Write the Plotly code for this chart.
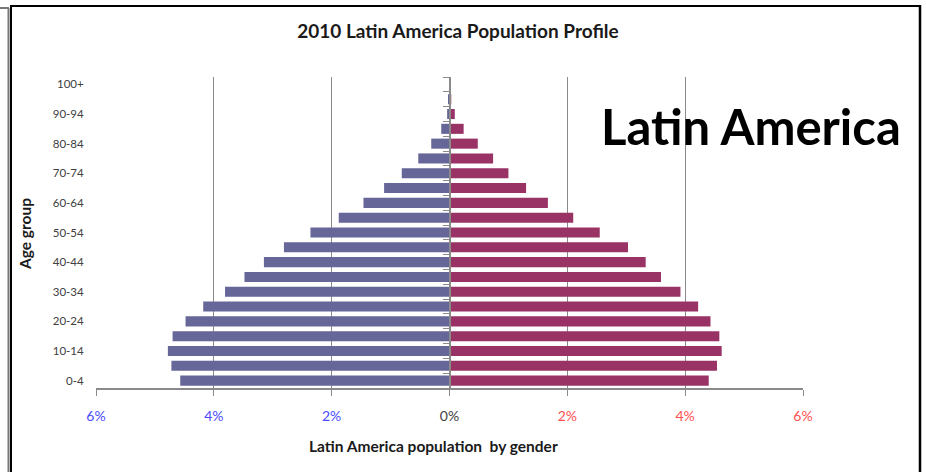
import plotly.graph_objects as go

# Age groups, youngest first (bottom of the pyramid)
age_groups = ["0-4", "5-9", "10-14", "15-19", "20-24", "25-29", "30-34", "35-39",
              "40-44", "45-49", "50-54", "55-59", "60-64", "65-69", "70-74",
              "75-79", "80-84", "85-89", "90-94", "95-99", "100+"]

# Share of total population (%) by gender
male_pct = [4.57, 4.72, 4.78, 4.70, 4.48, 4.18, 3.81, 3.48, 3.15, 2.81, 2.36,
            1.88, 1.46, 1.11, 0.81, 0.53, 0.31, 0.14, 0.04, 0.01, 0.00]
female_pct = [4.40, 4.54, 4.62, 4.58, 4.43, 4.22, 3.92, 3.59, 3.33, 3.03, 2.55,
              2.10, 1.67, 1.30, 1.00, 0.74, 0.48, 0.24, 0.09, 0.03, 0.01]

# Every other age group is labelled
age_labels = age_groups[::2]

# Horizontal axis ticks (%), males drawn to the left of zero
x_ticks = [-6, -4, -2, 0, 2, 4, 6]
x_tick_text = ["6%", "4%", "2%", "0%", "2%", "4%", "6%"]

MALE_COLOR = "#666699"
FEMALE_COLOR = "#993366"
GRID = "#8a8a8a"
FONT = "Lato"

W, H = 926, 472
M_L, M_R, M_T, M_B = 96, 123, 77, 84
PW, PH = W - M_L - M_R, H - M_T - M_B


def px_x(px):
    return (px - M_L) / PW


def px_y(py):
    return (H - M_B - py) / PH


def tick_color(v):
    if v < 0:
        return "#4a4aff"
    if v > 0:
        return "#ff4f4f"
    return "#404040"


tick_text_colored = [f"<span style='color:{tick_color(v)}'>{t}</span>"
                     for v, t in zip(x_ticks, x_tick_text)]

fig = go.Figure()
fig.add_trace(go.Bar(
    y=age_groups, x=[-v for v in male_pct], orientation="h",
    marker=dict(color=MALE_COLOR, line=dict(width=0)), name="Male",
))
fig.add_trace(go.Bar(
    y=age_groups, x=female_pct, orientation="h",
    marker=dict(color=FEMALE_COLOR, line=dict(width=0)), name="Female",
))

# Invisible trace that carries the centre (zero) axis with boundary ticks
n = len(age_groups)
boundaries = [i - 0.5 for i in range(n + 1)]
fig.add_trace(go.Scatter(x=[0], y=[0], yaxis="y2", mode="markers",
                         marker=dict(opacity=0), hoverinfo="skip",
                         showlegend=False))

fig.update_layout(
    width=W, height=H,
    margin=dict(l=M_L, r=M_R, t=M_T, b=M_B),
    paper_bgcolor="white", plot_bgcolor="white",
    barmode="relative", bargap=0.32, showlegend=False,
    font=dict(family=FONT, color="#222"),
    title=dict(text="<b>2010 Latin America Population Profile</b>",
               xref="container", x=458 / W, xanchor="center",
               yref="container", y=1 - 31 / H, yanchor="middle",
               font=dict(size=19, family=FONT, color="#1a1a1a")),
    xaxis=dict(range=[-6, 6], tickvals=x_ticks, ticktext=tick_text_colored,
               showgrid=True, gridcolor=GRID, gridwidth=1,
               zeroline=False, showline=True, linecolor=GRID, linewidth=1.5,
               ticks="outside", ticklen=6, tickcolor=GRID,
               ticklabelstandoff=8,
               tickfont=dict(size=14, family=FONT), fixedrange=True),
    yaxis=dict(type="category", categoryorder="array", categoryarray=age_groups,
               range=[-0.5, n - 0.5], tickvals=age_labels, ticktext=age_labels,
               showgrid=False, zeroline=False, showline=False,
               ticks="outside", ticklen=9, tickcolor="rgba(0,0,0,0)",
               tickfont=dict(size=11.5, family=FONT, color="#404040")),
    yaxis2=dict(overlaying="y", anchor="free", position=0.5, side="left",
                range=[-0.5, n - 0.5], tickvals=boundaries,
                showticklabels=False, showgrid=False, zeroline=False,
                showline=True, linecolor=GRID, linewidth=1.5,
                ticks="outside", ticklen=6, tickcolor=GRID),
)

annotations = [
    dict(text="<b>Latin America population  by gender</b>",
         xref="paper", yref="paper", x=px_x(433), y=px_y(446),
         xanchor="center", yanchor="middle", showarrow=False,
         font=dict(size=15.5, family=FONT, color="#1a1a1a")),
    dict(text="<b>Age group</b>", textangle=-90,
         xref="paper", yref="paper", x=px_x(25), y=px_y(234),
         xanchor="center", yanchor="middle", showarrow=False,
         font=dict(size=15.5, family=FONT, color="#1a1a1a")),
    dict(text="<b>Latin America</b>",
         xref="paper", yref="paper", x=px_x(751), y=px_y(126),
         xanchor="center", yanchor="middle", showarrow=False,
         font=dict(size=49, family=FONT, color="black")),
]
fig.update_layout(annotations=annotations)

# Outer frame around the chart
frame = [
    dict(x0=px_x(0), x1=px_x(9), y0=px_y(8), y1=px_y(8), color="#777", w=2),
    dict(x0=px_x(8.5), x1=px_x(8.5), y0=px_y(8), y1=px_y(H + 2), color="#777", w=2),
    dict(x0=px_x(11), x1=px_x(11), y0=px_y(6), y1=px_y(H + 2), color="black", w=2),
    dict(x0=px_x(10), x1=px_x(921), y0=px_y(6), y1=px_y(6), color="black", w=2),
    dict(x0=px_x(920), x1=px_x(920), y0=px_y(5), y1=px_y(H + 2), color="black", w=2.5),
]
for f in frame:
    fig.add_shape(type="line", xref="paper", yref="paper",
                  x0=f["x0"], x1=f["x1"], y0=f["y0"], y1=f["y1"],
                  line=dict(color=f["color"], width=f["w"]), layer="above")

fig.write_html("out.html")
